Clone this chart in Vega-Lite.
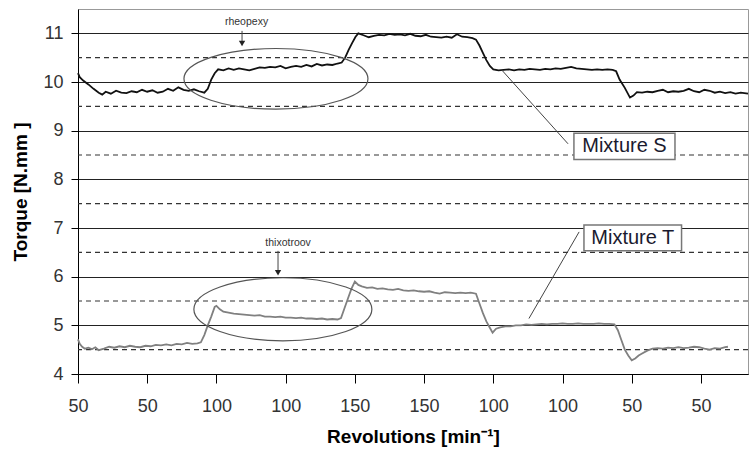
{
  "$schema": "https://vega.github.io/schema/vega-lite/v6.json",
  "width": 670,
  "height": 365,
  "autosize": {"type": "none"},
  "padding": {"left": 78, "top": 9, "right": 1, "bottom": 77},
  "background": "white",
  "config": {
    "view": {"stroke": "#999", "strokeWidth": 1},
    "font": "Liberation Sans"
  },
  "datasets": {
    "half": [{"y": 4.5}, {"y": 5.5}, {"y": 6.5}, {"y": 7.5}, {"y": 8.5}, {"y": 9.5}, {"y": 10.5}],
    "main": [
      {"s": "S", "x": 0.00, "y": 10.18}, {"s": "S", "x": 0.05, "y": 10.10}, {"s": "S", "x": 0.15, "y": 10.03},
      {"s": "S", "x": 0.30, "y": 9.95}, {"s": "S", "x": 0.45, "y": 9.86}, {"s": "S", "x": 0.60, "y": 9.78},
      {"s": "S", "x": 0.70, "y": 9.74}, {"s": "S", "x": 0.80, "y": 9.80}, {"s": "S", "x": 0.95, "y": 9.76},
      {"s": "S", "x": 1.10, "y": 9.82}, {"s": "S", "x": 1.25, "y": 9.78}, {"s": "S", "x": 1.40, "y": 9.77},
      {"s": "S", "x": 1.55, "y": 9.81}, {"s": "S", "x": 1.70, "y": 9.79}, {"s": "S", "x": 1.85, "y": 9.84},
      {"s": "S", "x": 2.00, "y": 9.80}, {"s": "S", "x": 2.15, "y": 9.83}, {"s": "S", "x": 2.30, "y": 9.78},
      {"s": "S", "x": 2.45, "y": 9.80}, {"s": "S", "x": 2.60, "y": 9.86}, {"s": "S", "x": 2.75, "y": 9.82},
      {"s": "S", "x": 2.90, "y": 9.89}, {"s": "S", "x": 3.05, "y": 9.84}, {"s": "S", "x": 3.20, "y": 9.82},
      {"s": "S", "x": 3.35, "y": 9.85}, {"s": "S", "x": 3.50, "y": 9.81}, {"s": "S", "x": 3.65, "y": 9.78},
      {"s": "S", "x": 3.75, "y": 9.86}, {"s": "S", "x": 3.85, "y": 10.05}, {"s": "S", "x": 3.95, "y": 10.18},
      {"s": "S", "x": 4.05, "y": 10.26}, {"s": "S", "x": 4.20, "y": 10.24}, {"s": "S", "x": 4.35, "y": 10.28},
      {"s": "S", "x": 4.50, "y": 10.25}, {"s": "S", "x": 4.65, "y": 10.28}, {"s": "S", "x": 4.80, "y": 10.26},
      {"s": "S", "x": 4.95, "y": 10.24}, {"s": "S", "x": 5.10, "y": 10.27}, {"s": "S", "x": 5.25, "y": 10.30},
      {"s": "S", "x": 5.40, "y": 10.29}, {"s": "S", "x": 5.55, "y": 10.31}, {"s": "S", "x": 5.70, "y": 10.30},
      {"s": "S", "x": 5.85, "y": 10.33}, {"s": "S", "x": 6.00, "y": 10.28}, {"s": "S", "x": 6.15, "y": 10.31},
      {"s": "S", "x": 6.30, "y": 10.33}, {"s": "S", "x": 6.45, "y": 10.31}, {"s": "S", "x": 6.60, "y": 10.35},
      {"s": "S", "x": 6.75, "y": 10.32}, {"s": "S", "x": 6.90, "y": 10.37}, {"s": "S", "x": 7.05, "y": 10.34},
      {"s": "S", "x": 7.20, "y": 10.36}, {"s": "S", "x": 7.35, "y": 10.35}, {"s": "S", "x": 7.50, "y": 10.38},
      {"s": "S", "x": 7.62, "y": 10.40}, {"s": "S", "x": 7.72, "y": 10.50}, {"s": "S", "x": 7.82, "y": 10.66},
      {"s": "S", "x": 7.92, "y": 10.80}, {"s": "S", "x": 8.02, "y": 10.93}, {"s": "S", "x": 8.10, "y": 11.00},
      {"s": "S", "x": 8.25, "y": 10.96}, {"s": "S", "x": 8.40, "y": 10.92}, {"s": "S", "x": 8.55, "y": 10.95},
      {"s": "S", "x": 8.70, "y": 10.97}, {"s": "S", "x": 8.85, "y": 10.96}, {"s": "S", "x": 9.00, "y": 10.99},
      {"s": "S", "x": 9.15, "y": 10.97}, {"s": "S", "x": 9.30, "y": 10.98}, {"s": "S", "x": 9.45, "y": 10.96},
      {"s": "S", "x": 9.60, "y": 10.99}, {"s": "S", "x": 9.75, "y": 10.95}, {"s": "S", "x": 9.90, "y": 10.94},
      {"s": "S", "x": 10.05, "y": 10.97}, {"s": "S", "x": 10.20, "y": 10.93}, {"s": "S", "x": 10.35, "y": 10.92},
      {"s": "S", "x": 10.50, "y": 10.91}, {"s": "S", "x": 10.65, "y": 10.93}, {"s": "S", "x": 10.80, "y": 10.91},
      {"s": "S", "x": 10.95, "y": 10.98}, {"s": "S", "x": 11.10, "y": 10.93}, {"s": "S", "x": 11.25, "y": 10.92},
      {"s": "S", "x": 11.40, "y": 10.90}, {"s": "S", "x": 11.50, "y": 10.87}, {"s": "S", "x": 11.60, "y": 10.75},
      {"s": "S", "x": 11.70, "y": 10.60}, {"s": "S", "x": 11.80, "y": 10.45}, {"s": "S", "x": 11.90, "y": 10.33},
      {"s": "S", "x": 12.00, "y": 10.26}, {"s": "S", "x": 12.15, "y": 10.24}, {"s": "S", "x": 12.30, "y": 10.25},
      {"s": "S", "x": 12.45, "y": 10.26}, {"s": "S", "x": 12.60, "y": 10.24}, {"s": "S", "x": 12.75, "y": 10.26},
      {"s": "S", "x": 12.90, "y": 10.25}, {"s": "S", "x": 13.05, "y": 10.27}, {"s": "S", "x": 13.20, "y": 10.26},
      {"s": "S", "x": 13.35, "y": 10.25}, {"s": "S", "x": 13.50, "y": 10.27}, {"s": "S", "x": 13.65, "y": 10.26},
      {"s": "S", "x": 13.80, "y": 10.28}, {"s": "S", "x": 13.95, "y": 10.27}, {"s": "S", "x": 14.10, "y": 10.29},
      {"s": "S", "x": 14.25, "y": 10.31}, {"s": "S", "x": 14.40, "y": 10.28}, {"s": "S", "x": 14.55, "y": 10.27},
      {"s": "S", "x": 14.70, "y": 10.26}, {"s": "S", "x": 14.85, "y": 10.25}, {"s": "S", "x": 15.00, "y": 10.26},
      {"s": "S", "x": 15.15, "y": 10.25}, {"s": "S", "x": 15.30, "y": 10.26}, {"s": "S", "x": 15.45, "y": 10.25},
      {"s": "S", "x": 15.55, "y": 10.22}, {"s": "S", "x": 15.65, "y": 10.05}, {"s": "S", "x": 15.80, "y": 9.88},
      {"s": "S", "x": 15.95, "y": 9.68}, {"s": "S", "x": 16.05, "y": 9.72}, {"s": "S", "x": 16.15, "y": 9.79},
      {"s": "S", "x": 16.30, "y": 9.78}, {"s": "S", "x": 16.45, "y": 9.80}, {"s": "S", "x": 16.60, "y": 9.79},
      {"s": "S", "x": 16.75, "y": 9.82}, {"s": "S", "x": 16.90, "y": 9.84}, {"s": "S", "x": 17.05, "y": 9.79},
      {"s": "S", "x": 17.20, "y": 9.81}, {"s": "S", "x": 17.35, "y": 9.80}, {"s": "S", "x": 17.50, "y": 9.82},
      {"s": "S", "x": 17.65, "y": 9.86}, {"s": "S", "x": 17.80, "y": 9.81}, {"s": "S", "x": 17.95, "y": 9.79},
      {"s": "S", "x": 18.10, "y": 9.84}, {"s": "S", "x": 18.25, "y": 9.82}, {"s": "S", "x": 18.40, "y": 9.78},
      {"s": "S", "x": 18.55, "y": 9.80}, {"s": "S", "x": 18.70, "y": 9.77}, {"s": "S", "x": 18.85, "y": 9.79},
      {"s": "S", "x": 19.00, "y": 9.76}, {"s": "S", "x": 19.15, "y": 9.78}, {"s": "S", "x": 19.36, "y": 9.76},
      {"s": "T", "x": 0.00, "y": 4.71}, {"s": "T", "x": 0.05, "y": 4.62}, {"s": "T", "x": 0.12, "y": 4.56},
      {"s": "T", "x": 0.20, "y": 4.52}, {"s": "T", "x": 0.30, "y": 4.54}, {"s": "T", "x": 0.40, "y": 4.51},
      {"s": "T", "x": 0.50, "y": 4.55}, {"s": "T", "x": 0.60, "y": 4.49}, {"s": "T", "x": 0.75, "y": 4.52},
      {"s": "T", "x": 0.90, "y": 4.56}, {"s": "T", "x": 1.05, "y": 4.54}, {"s": "T", "x": 1.20, "y": 4.57},
      {"s": "T", "x": 1.35, "y": 4.55}, {"s": "T", "x": 1.50, "y": 4.58}, {"s": "T", "x": 1.65, "y": 4.56},
      {"s": "T", "x": 1.80, "y": 4.55}, {"s": "T", "x": 1.95, "y": 4.58}, {"s": "T", "x": 2.10, "y": 4.57},
      {"s": "T", "x": 2.25, "y": 4.60}, {"s": "T", "x": 2.40, "y": 4.59}, {"s": "T", "x": 2.55, "y": 4.61},
      {"s": "T", "x": 2.70, "y": 4.59}, {"s": "T", "x": 2.85, "y": 4.62}, {"s": "T", "x": 3.00, "y": 4.61},
      {"s": "T", "x": 3.15, "y": 4.64}, {"s": "T", "x": 3.30, "y": 4.62}, {"s": "T", "x": 3.45, "y": 4.63},
      {"s": "T", "x": 3.55, "y": 4.65}, {"s": "T", "x": 3.65, "y": 4.80}, {"s": "T", "x": 3.75, "y": 5.00},
      {"s": "T", "x": 3.85, "y": 5.18}, {"s": "T", "x": 3.95, "y": 5.38}, {"s": "T", "x": 4.00, "y": 5.40},
      {"s": "T", "x": 4.10, "y": 5.33}, {"s": "T", "x": 4.20, "y": 5.28}, {"s": "T", "x": 4.35, "y": 5.26},
      {"s": "T", "x": 4.50, "y": 5.24}, {"s": "T", "x": 4.65, "y": 5.23}, {"s": "T", "x": 4.80, "y": 5.22},
      {"s": "T", "x": 4.95, "y": 5.21}, {"s": "T", "x": 5.10, "y": 5.20}, {"s": "T", "x": 5.25, "y": 5.21},
      {"s": "T", "x": 5.40, "y": 5.18}, {"s": "T", "x": 5.55, "y": 5.18}, {"s": "T", "x": 5.70, "y": 5.17},
      {"s": "T", "x": 5.85, "y": 5.18}, {"s": "T", "x": 6.00, "y": 5.16}, {"s": "T", "x": 6.15, "y": 5.16},
      {"s": "T", "x": 6.30, "y": 5.15}, {"s": "T", "x": 6.45, "y": 5.16}, {"s": "T", "x": 6.60, "y": 5.14},
      {"s": "T", "x": 6.75, "y": 5.14}, {"s": "T", "x": 6.90, "y": 5.13}, {"s": "T", "x": 7.05, "y": 5.14},
      {"s": "T", "x": 7.20, "y": 5.12}, {"s": "T", "x": 7.35, "y": 5.13}, {"s": "T", "x": 7.50, "y": 5.12},
      {"s": "T", "x": 7.60, "y": 5.15}, {"s": "T", "x": 7.70, "y": 5.35}, {"s": "T", "x": 7.80, "y": 5.55},
      {"s": "T", "x": 7.90, "y": 5.75}, {"s": "T", "x": 8.00, "y": 5.90}, {"s": "T", "x": 8.10, "y": 5.83},
      {"s": "T", "x": 8.20, "y": 5.80}, {"s": "T", "x": 8.35, "y": 5.77}, {"s": "T", "x": 8.50, "y": 5.78},
      {"s": "T", "x": 8.65, "y": 5.75}, {"s": "T", "x": 8.80, "y": 5.76}, {"s": "T", "x": 8.95, "y": 5.74},
      {"s": "T", "x": 9.10, "y": 5.73}, {"s": "T", "x": 9.25, "y": 5.75}, {"s": "T", "x": 9.40, "y": 5.72},
      {"s": "T", "x": 9.55, "y": 5.71}, {"s": "T", "x": 9.70, "y": 5.72}, {"s": "T", "x": 9.85, "y": 5.70},
      {"s": "T", "x": 10.00, "y": 5.69}, {"s": "T", "x": 10.15, "y": 5.70}, {"s": "T", "x": 10.30, "y": 5.67},
      {"s": "T", "x": 10.45, "y": 5.65}, {"s": "T", "x": 10.60, "y": 5.68}, {"s": "T", "x": 10.75, "y": 5.67},
      {"s": "T", "x": 10.90, "y": 5.66}, {"s": "T", "x": 11.05, "y": 5.67}, {"s": "T", "x": 11.20, "y": 5.66},
      {"s": "T", "x": 11.35, "y": 5.67}, {"s": "T", "x": 11.50, "y": 5.65}, {"s": "T", "x": 11.60, "y": 5.45},
      {"s": "T", "x": 11.70, "y": 5.25}, {"s": "T", "x": 11.80, "y": 5.08}, {"s": "T", "x": 11.90, "y": 4.95},
      {"s": "T", "x": 11.98, "y": 4.85}, {"s": "T", "x": 12.08, "y": 4.93}, {"s": "T", "x": 12.20, "y": 4.96},
      {"s": "T", "x": 12.35, "y": 4.98}, {"s": "T", "x": 12.50, "y": 4.98}, {"s": "T", "x": 12.65, "y": 5.00},
      {"s": "T", "x": 12.80, "y": 5.00}, {"s": "T", "x": 12.95, "y": 5.02}, {"s": "T", "x": 13.10, "y": 5.01},
      {"s": "T", "x": 13.25, "y": 5.02}, {"s": "T", "x": 13.40, "y": 5.03}, {"s": "T", "x": 13.55, "y": 5.02},
      {"s": "T", "x": 13.70, "y": 5.03}, {"s": "T", "x": 13.85, "y": 5.03}, {"s": "T", "x": 14.00, "y": 5.04},
      {"s": "T", "x": 14.15, "y": 5.03}, {"s": "T", "x": 14.30, "y": 5.03}, {"s": "T", "x": 14.45, "y": 5.04},
      {"s": "T", "x": 14.60, "y": 5.03}, {"s": "T", "x": 14.75, "y": 5.03}, {"s": "T", "x": 14.90, "y": 5.03},
      {"s": "T", "x": 15.05, "y": 5.04}, {"s": "T", "x": 15.20, "y": 5.03}, {"s": "T", "x": 15.35, "y": 5.03},
      {"s": "T", "x": 15.50, "y": 5.02}, {"s": "T", "x": 15.60, "y": 4.90}, {"s": "T", "x": 15.70, "y": 4.70},
      {"s": "T", "x": 15.80, "y": 4.50}, {"s": "T", "x": 15.90, "y": 4.38}, {"s": "T", "x": 16.00, "y": 4.28},
      {"s": "T", "x": 16.10, "y": 4.32}, {"s": "T", "x": 16.20, "y": 4.38}, {"s": "T", "x": 16.30, "y": 4.42},
      {"s": "T", "x": 16.45, "y": 4.48}, {"s": "T", "x": 16.60, "y": 4.52}, {"s": "T", "x": 16.75, "y": 4.53},
      {"s": "T", "x": 16.90, "y": 4.52}, {"s": "T", "x": 17.05, "y": 4.54}, {"s": "T", "x": 17.20, "y": 4.53},
      {"s": "T", "x": 17.35, "y": 4.55}, {"s": "T", "x": 17.50, "y": 4.53}, {"s": "T", "x": 17.65, "y": 4.54},
      {"s": "T", "x": 17.80, "y": 4.56}, {"s": "T", "x": 17.95, "y": 4.55}, {"s": "T", "x": 18.10, "y": 4.52},
      {"s": "T", "x": 18.25, "y": 4.50}, {"s": "T", "x": 18.40, "y": 4.53}, {"s": "T", "x": 18.55, "y": 4.52},
      {"s": "T", "x": 18.70, "y": 4.55}, {"s": "T", "x": 18.78, "y": 4.56}
    ]
  },
  "layer": [
    {
      "data": {"name": "half"},
      "mark": {"type": "rule", "color": "#333", "strokeWidth": 1.2, "strokeDash": [5, 4]},
      "encoding": {
        "y": {
          "field": "y", "type": "quantitative",
          "scale": {"domain": [4, 11.5], "nice": false, "zero": false},
          "axis": {
            "values": [4, 5, 6, 7, 8, 9, 10, 11],
            "grid": true, "gridColor": "#222", "gridOpacity": 1, "gridWidth": 1.2,
            "tickSize": 7, "tickColor": "#000", "domainColor": "#000",
            "labelFont": "Liberation Sans", "labelFontSize": 18, "labelColor": "#333", "labelPadding": 8,
            "title": "Torque [N.mm ]", "titleFont": "Liberation Sans", "titleFontSize": 19,
            "titleFontWeight": "bold", "titleColor": "#000", "titlePadding": 12
          }
        }
      }
    },
    {
      "data": {"name": "main"},
      "mark": {"type": "line", "strokeWidth": 1.8, "interpolate": "linear"},
      "encoding": {
        "x": {
          "field": "x", "type": "quantitative",
          "scale": {"domain": [0, 19.36], "nice": false, "zero": false},
          "axis": {
            "values": [0, 1, 2, 3, 4, 5, 6, 7, 8, 9, 10, 11, 12, 13, 14, 15, 16, 17, 18, 19],
            "labelExpr": "datum.value % 2 == 0 ? ['50','50','100','100','150','150','100','100','50','50'][datum.value / 2] : ''",
            "grid": false, "tickSize": 9, "tickColor": "#000", "domainColor": "#000",
            "labelFont": "Liberation Sans", "labelFontSize": 18, "labelColor": "#333", "labelPadding": 14,
            "labelOverlap": false, "labelFlush": false,
            "title": "Revolutions [min⁻¹]", "titleFont": "Liberation Sans", "titleFontSize": 19,
            "titleFontWeight": "bold", "titleColor": "#000", "titlePadding": 12
          }
        },
        "y": {
          "field": "y", "type": "quantitative",
          "scale": {"domain": [4, 11.5], "nice": false, "zero": false},
          "axis": {
            "values": [4, 5, 6, 7, 8, 9, 10, 11],
            "grid": true, "gridColor": "#222", "gridOpacity": 1, "gridWidth": 1.2,
            "tickSize": 7, "tickColor": "#000", "domainColor": "#000",
            "labelFont": "Liberation Sans", "labelFontSize": 18, "labelColor": "#333", "labelPadding": 8,
            "title": "Torque [N.mm ]", "titleFont": "Liberation Sans", "titleFontSize": 19,
            "titleFontWeight": "bold", "titleColor": "#000", "titlePadding": 12
          }
        },
        "color": {"field": "s", "type": "nominal", "scale": {"domain": ["S", "T"], "range": ["#111111", "#808080"]}, "legend": null}
      }
    },
    {
      "data": {"values": [{"x": 5.72, "y": 10.065}]},
      "mark": {"type": "point", "filled": false, "stroke": "#555", "strokeWidth": 1.2, "opacity": 1, "size": 33856,
        "shape": "M -1 0 C -1 -0.182 -0.5523 -0.33 0 -0.33 C 0.5523 -0.33 1 -0.182 1 0 C 1 0.182 0.5523 0.33 0 0.33 C -0.5523 0.33 -1 0.182 -1 0 Z"},
      "encoding": {
        "x": {"field": "x", "type": "quantitative", "scale": {"domain": [0, 19.36], "nice": false, "zero": false}},
        "y": {"field": "y", "type": "quantitative", "scale": {"domain": [4, 11.5], "nice": false, "zero": false}}
      }
    },
    {
      "data": {"values": [{"x": 5.92, "y": 5.33}]},
      "mark": {"type": "point", "filled": false, "stroke": "#555", "strokeWidth": 1.2, "opacity": 1, "size": 31684,
        "shape": "M -1 0 C -1 -0.195 -0.5523 -0.354 0 -0.354 C 0.5523 -0.354 1 -0.195 1 0 C 1 0.195 0.5523 0.354 0 0.354 C -0.5523 0.354 -1 0.195 -1 0 Z"},
      "encoding": {
        "x": {"field": "x", "type": "quantitative", "scale": {"domain": [0, 19.36], "nice": false, "zero": false}},
        "y": {"field": "y", "type": "quantitative", "scale": {"domain": [4, 11.5], "nice": false, "zero": false}}
      }
    },
    {
      "data": {"values": [
        {"x": 4.74, "y": 11.05, "x2": 4.74, "y2": 10.79},
        {"x": 5.78, "y": 6.53, "x2": 5.78, "y2": 6.08},
        {"x": 14.16, "y": 8.73, "x2": 12.24, "y2": 10.25},
        {"x": 14.48, "y": 6.92, "x2": 13.03, "y2": 5.14}
      ]},
      "mark": {"type": "rule", "color": "#444", "strokeWidth": 1},
      "encoding": {
        "x": {"field": "x", "type": "quantitative", "scale": {"domain": [0, 19.36], "nice": false, "zero": false}},
        "y": {"field": "y", "type": "quantitative", "scale": {"domain": [4, 11.5], "nice": false, "zero": false}},
        "x2": {"field": "x2"},
        "y2": {"field": "y2"}
      }
    },
    {
      "data": {"values": [{"x": 4.74, "y": 10.79}, {"x": 5.78, "y": 6.08}]},
      "mark": {"type": "point", "shape": "triangle-down", "filled": true, "color": "#222", "opacity": 1, "size": 40},
      "encoding": {
        "x": {"field": "x", "type": "quantitative", "scale": {"domain": [0, 19.36], "nice": false, "zero": false}},
        "y": {"field": "y", "type": "quantitative", "scale": {"domain": [4, 11.5], "nice": false, "zero": false}}
      }
    },
    {
      "data": {"values": [
        {"x": 14.33, "x2": 17.25, "y": 8.945, "y2": 8.41},
        {"x": 14.62, "x2": 17.44, "y": 7.06, "y2": 6.53}
      ]},
      "mark": {"type": "rect", "fill": "white", "stroke": "#777", "strokeWidth": 1.5},
      "encoding": {
        "x": {"field": "x", "type": "quantitative", "scale": {"domain": [0, 19.36], "nice": false, "zero": false}},
        "y": {"field": "y", "type": "quantitative", "scale": {"domain": [4, 11.5], "nice": false, "zero": false}},
        "x2": {"field": "x2"},
        "y2": {"field": "y2"}
      }
    },
    {
      "data": {"values": [
        {"x": 15.79, "y": 8.68, "t": "Mixture S"},
        {"x": 16.03, "y": 6.80, "t": "Mixture T"}
      ]},
      "mark": {"type": "text", "font": "Liberation Sans", "fontSize": 20, "color": "#1a1a2e", "align": "center", "baseline": "middle"},
      "encoding": {
        "x": {"field": "x", "type": "quantitative", "scale": {"domain": [0, 19.36], "nice": false, "zero": false}},
        "y": {"field": "y", "type": "quantitative", "scale": {"domain": [4, 11.5], "nice": false, "zero": false}},
        "text": {"field": "t"}
      }
    },
    {
      "data": {"values": [
        {"x": 4.87, "y": 11.23, "t": "rheopexy"},
        {"x": 6.07, "y": 6.69, "t": "thixotroov"}
      ]},
      "mark": {"type": "text", "font": "Liberation Sans", "fontSize": 10.5, "color": "#333", "align": "center", "baseline": "middle"},
      "encoding": {
        "x": {"field": "x", "type": "quantitative", "scale": {"domain": [0, 19.36], "nice": false, "zero": false}},
        "y": {"field": "y", "type": "quantitative", "scale": {"domain": [4, 11.5], "nice": false, "zero": false}},
        "text": {"field": "t"}
      }
    }
  ]
}
